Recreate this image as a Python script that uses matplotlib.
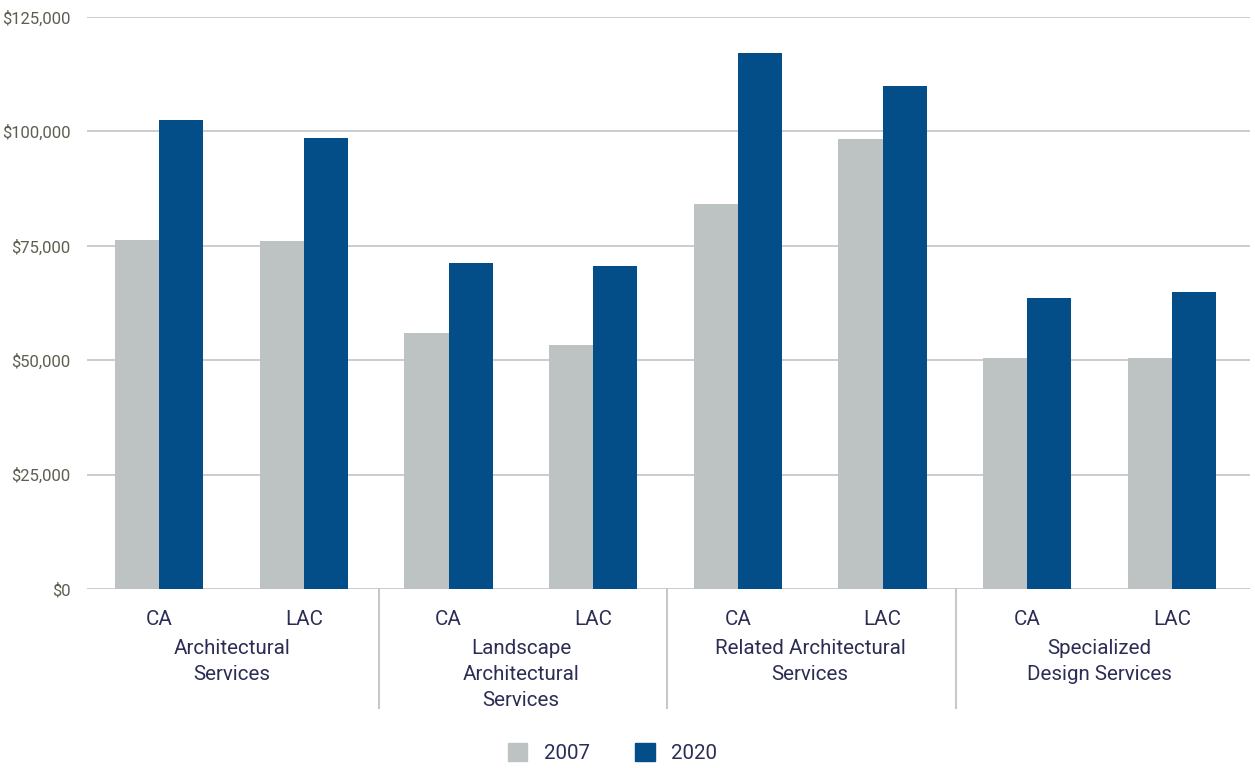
import matplotlib
matplotlib.use("Agg")
import matplotlib.pyplot as plt
import matplotlib.transforms as mtransforms
from matplotlib.patches import Patch
import numpy as np

plt.rcParams['font.family'] = ['Roboto', 'DejaVu Sans']

regions = ["CA", "LAC", "CA", "LAC", "CA", "LAC", "CA", "LAC"]
groups = ["Architectural\nServices",
          "Landscape\nArchitectural\nServices",
          "Related Architectural\nServices",
          "Specialized\nDesign Services"]
wage_2007 = [76200, 76000, 55900, 53300, 84100, 98300, 50500, 50500]
wage_2020 = [102500, 98600, 71200, 70600, 117100, 109900, 63600, 64900]
yticks = [0, 25000, 50000, 75000, 100000, 125000]
ytick_labels = ["$0", "$25,000", "$50,000", "$75,000", "$100,000", "$125,000"]

GREY = "#BDC3C3"
NAVY = "#034E88"
TEXT = "#2B2D55"
TICK = "#5E5E50"
LINE = "#C8C8C8"
FS = 14.8

fig = plt.figure(figsize=(12.55, 7.68), dpi=100)
ax = fig.add_axes([0.0693, 0.233, 0.9267, 0.745])

x = np.arange(len(regions))
w = 0.305
ax.bar(x - w / 2, wage_2007, w, color=GREY, zorder=2)
ax.bar(x + w / 2, wage_2020, w, color=NAVY, zorder=2)

ax.set_xlim(-0.5, 7.54)
ax.set_ylim(0, 125000)
ax.set_yticks(yticks)
ax.set_yticklabels(ytick_labels, fontsize=12, color=TICK)
ax.tick_params(axis='y', length=0, pad=12)
ax.set_xticks([])
ax.grid(axis='y', color=LINE, lw=1.3, zorder=1)
for s in ax.spines.values():
    s.set_visible(False)

trans = mtransforms.blended_transform_factory(ax.transData, ax.transAxes)
for xi, r in zip(x, regions):
    ax.text(xi, -0.053, r, transform=trans, ha='center', va='center',
            fontsize=FS, color=TEXT)
for i, g in enumerate(groups):
    ax.text(2 * i + 0.5, -0.088, g, transform=trans, ha='center', va='top',
            fontsize=FS, color=TEXT, linespacing=1.45)
for sx in [1.52, 3.51, 5.51]:
    ax.plot([sx, sx], [0, -0.208], transform=trans, color=LINE, lw=1.5,
            clip_on=False)

handles = [Patch(color=GREY, label="2007"), Patch(color=NAVY, label="2020")]
fig.legend(handles=handles, loc='center', bbox_to_anchor=(0.488, 0.019),
           ncol=2, frameon=False, fontsize=FS, labelcolor=TEXT,
           handlelength=0.97, handleheight=0.97, handletextpad=0.78,
           columnspacing=2.23)

fig.savefig("out.png", dpi=100)
